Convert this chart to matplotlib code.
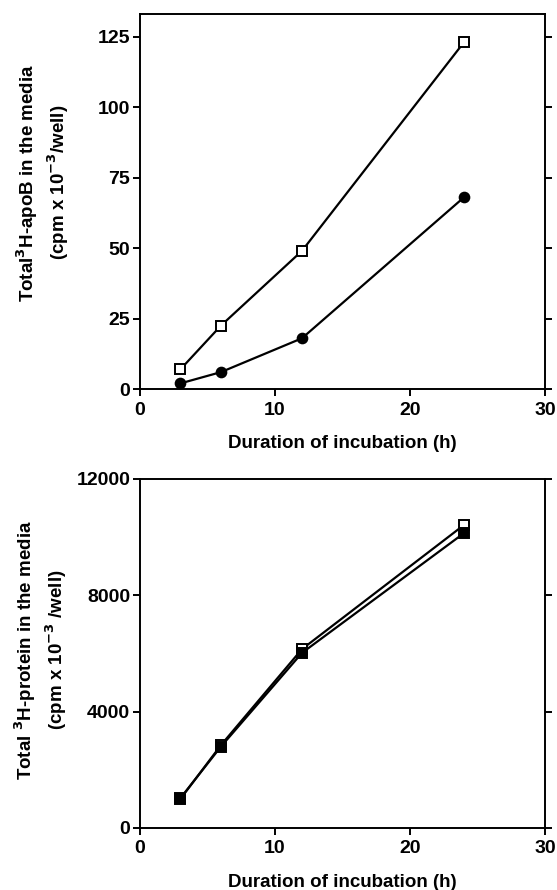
import matplotlib.pyplot as plt

plt.rcParams.update({
    "font.family": ["Liberation Sans", "DejaVu Sans"],
    "font.weight": "bold",
    "font.size": 13,
    "axes.linewidth": 1.4,
    "xtick.major.width": 1.4,
    "ytick.major.width": 1.4,
})

hours = [3, 6, 12, 24]

# top panel: total 3H-apoB
apob_open = [7, 22.5, 49, 123]
apob_filled = [2, 6, 18, 68]
apob_ticks = [0, 25, 50, 75, 100, 125]

# bottom panel: total 3H-protein
prot_open = [1000, 2850, 6150, 10420]
prot_filled = [1030, 2800, 6020, 10140]
prot_ticks = [0, 4000, 8000, 12000]

x_ticks = [0, 10, 20, 30]

fig = plt.figure(figsize=(5.57, 8.9), dpi=100)
ax1 = fig.add_axes([0.2513, 0.5629, 0.7272, 0.4214])
ax2 = fig.add_axes([0.2513, 0.0697, 0.7272, 0.3921])

line_kw = dict(color="black", linewidth=1.6, markersize=7, markeredgewidth=1.4, clip_on=False)

ax1.plot(hours, apob_filled, marker="o", markerfacecolor="black", **line_kw)
ax1.plot(hours, apob_open, marker="s", markerfacecolor="white", **line_kw)
ax1.set_ylim(0, 133)
ax1.set_yticks(apob_ticks)
ax1.set_ylabel("Total$^{\\mathbf{3}}$H-apoB in the media\n(cpm x 10$^{\\mathbf{-3}}$/well)",
               fontsize=13.5, fontweight="bold", linespacing=1.3)
ax1.yaxis.set_label_coords(-0.17, 0.55)

ax2.plot(hours, prot_open, marker="s", markerfacecolor="white", **line_kw)
ax2.plot(hours, prot_filled, marker="s", markerfacecolor="black", **line_kw)
ax2.set_ylim(0, 12000)
ax2.set_yticks(prot_ticks)
ax2.set_ylabel("Total $^{\\mathbf{3}}$H-protein in the media\n(cpm x 10$^{\\mathbf{-3}}$ /well)",
               fontsize=13.5, fontweight="bold", linespacing=1.3)
ax2.yaxis.set_label_coords(-0.175, 0.51)

for ax in (ax1, ax2):
    ax.set_xlim(0, 30)
    ax.set_xticks(x_ticks)
    ax.set_xlabel("Duration of incubation (h)", fontsize=13.5, fontweight="bold", labelpad=12)
    ax.tick_params(axis="both", direction="out", length=5, labelsize=14, pad=2)
    ax.tick_params(axis="x", pad=4)
    ax.tick_params(axis="y", right=True)
    for lbl in ax.get_xticklabels() + ax.get_yticklabels():
        lbl.set_fontweight("bold")

plt.savefig("out.png", dpi=100, facecolor="white")
